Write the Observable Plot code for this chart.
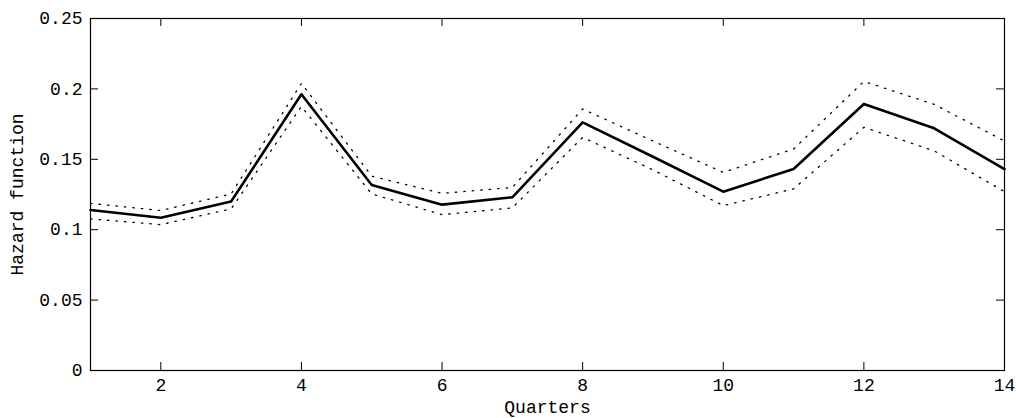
<!DOCTYPE html>
<html>
<head>
<meta charset="utf-8">
<script src="https://cdn.jsdelivr.net/npm/d3@7"></script>
<script src="https://cdn.jsdelivr.net/npm/@observablehq/plot@0.6"></script>
<style>
  html, body { margin: 0; padding: 0; background: #fff; }
</style>
</head>
<body>
<div id="chart"></div>
<script>
const quarters = [1, 2, 3, 4, 5, 6, 7, 8, 9, 10, 11, 12, 13, 14];
const hazard = [0.114, 0.1085, 0.120, 0.1962, 0.1318, 0.1178, 0.123, 0.1762, 0.1518, 0.127, 0.1431, 0.1893, 0.172, 0.1431];
const upper  = [0.1187, 0.1136, 0.1254, 0.2039, 0.1380, 0.1258, 0.130, 0.1857, 0.163, 0.1407, 0.1573, 0.2053, 0.189, 0.163];
const lower  = [0.1077, 0.1036, 0.1148, 0.1875, 0.1254, 0.1107, 0.1155, 0.1656, 0.1425, 0.1171, 0.129, 0.1727, 0.156, 0.127];
const xTicks = [2, 4, 6, 8, 10, 12, 14];
const yTicks = [0, 0.05, 0.1, 0.15, 0.2, 0.25];
const xLabel = "Quarters";
const yLabel = "Hazard function";

const rows = quarters.map((q, i) => ({q, h: hazard[i], u: upper[i], l: lower[i]}));

const W = 1016, H = 418, mL = 90, mR = 12, mT = 18, mB = 48, tick = 8;
const plotW = W - mL - mR, plotH = H - mT - mB;

const chart = Plot.plot({
  width: W,
  height: H,
  marginLeft: mL,
  marginRight: mR,
  marginTop: mT,
  marginBottom: mB,
  style: {fontFamily: "'Courier New', 'Liberation Mono', monospace", fontSize: "18px", color: "#000", background: "#fff"},
  x: {domain: [1, 14]},
  y: {domain: [0, 0.25]},
  marks: [
    Plot.axisX({anchor: "bottom", ticks: xTicks, tickSize: 0, tickPadding: 8, tickFormat: d => String(d), label: xLabel, labelAnchor: "center", labelArrow: "none", labelOffset: 42}),
    Plot.axisY({anchor: "left", ticks: yTicks, tickSize: 0, tickPadding: 8, tickFormat: d => String(d), label: yLabel, labelAnchor: "center", labelArrow: "none", labelOffset: 80}),
    Plot.tickX(xTicks, {x: d => d, stroke: "#000", insetTop: plotH - tick}),
    Plot.tickX(xTicks, {x: d => d, stroke: "#000", insetBottom: plotH - tick}),
    Plot.tickY(yTicks, {y: d => d, stroke: "#000", insetRight: plotW - tick}),
    Plot.tickY(yTicks, {y: d => d, stroke: "#000", insetLeft: plotW - tick}),
    Plot.line(rows, {x: "q", y: "u", stroke: "#000", strokeWidth: 1.3, strokeDasharray: "1.5 7"}),
    Plot.line(rows, {x: "q", y: "l", stroke: "#000", strokeWidth: 1.3, strokeDasharray: "1.5 7"}),
    Plot.line(rows, {x: "q", y: "h", stroke: "#000", strokeWidth: 2.6}),
    Plot.frame({stroke: "#000", strokeWidth: 1.2})
  ]
});
document.getElementById("chart").appendChild(chart);
</script>
</body>
</html>
